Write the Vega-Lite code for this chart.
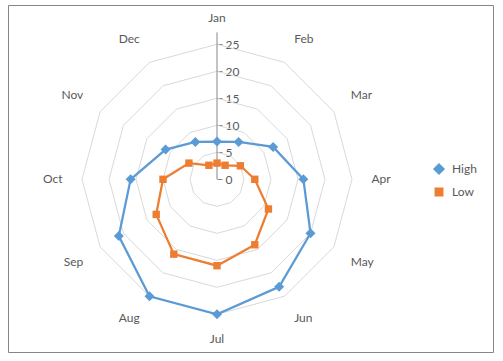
{
  "$schema": "https://vega.github.io/schema/vega-lite/v6.json",
  "width": 485,
  "height": 347,
  "autosize": {"type": "none"},
  "padding": {"left": 8, "top": 5, "right": 10, "bottom": 9},
  "background": "white",
  "config": {
    "view": {"stroke": "#868686", "strokeWidth": 1},
    "font": "Lato"
  },
  "datasets": {
    "temps": [
      {"month": "Jan", "High": 7, "Low": 3},
      {"month": "Feb", "High": 8, "Low": 3},
      {"month": "Mar", "High": 12, "Low": 5},
      {"month": "Apr", "High": 16, "Low": 7},
      {"month": "May", "High": 20, "Low": 11},
      {"month": "Jun", "High": 23, "Low": 14},
      {"month": "Jul", "High": 25, "Low": 16},
      {"month": "Aug", "High": 25, "Low": 16},
      {"month": "Sep", "High": 21, "Low": 13},
      {"month": "Oct", "High": 16, "Low": 10},
      {"month": "Nov", "High": 11, "Low": 6},
      {"month": "Dec", "High": 8, "Low": 3}
    ]
  },
  "data": {"name": "temps"},
  "transform": [
    {"window": [{"op": "row_number", "as": "idx"}]},
    {"calculate": "(datum.idx - 1) * PI / 6", "as": "ang"}
  ],
  "layer": [
    {
      "transform": [
        {"calculate": "[5, 10, 15, 20, 25]", "as": "level"},
        {"flatten": ["level"]},
        {"calculate": "datum.level * sin(datum.ang)", "as": "gx"},
        {"calculate": "datum.level * cos(datum.ang)", "as": "gy"}
      ],
      "mark": {"type": "line", "interpolate": "linear-closed", "stroke": "#D9D9D9", "strokeWidth": 1},
      "encoding": {
        "x": {"field": "gx", "type": "quantitative", "scale": {"domain": [-38.7037, 51.1111], "nice": false, "zero": false}, "axis": null},
        "y": {"field": "gy", "type": "quantitative", "scale": {"domain": [-31.981, 32.278], "nice": false, "zero": false},
          "axis": {"orient": "right", "offset": -276, "values": [0, 5, 10, 15, 20, 25], "domain": false, "grid": false,
            "ticks": true, "tickSize": 5, "tickColor": "#868686", "labelColor": "#595959", "labelFontSize": 12,
            "labelPadding": 3, "title": null, "labelFont": "Lato"}},
        "detail": {"field": "level", "type": "nominal"},
        "order": {"field": "idx", "type": "quantitative"}
      }
    },
    {
      "data": {"values": [{}]},
      "mark": {"type": "rule", "stroke": "#868686", "strokeWidth": 1},
      "encoding": {
        "x": {"datum": 0, "type": "quantitative", "axis": null},
        "y": {"datum": 0, "type": "quantitative"},
        "y2": {"datum": 27.2}
      }
    },
    {
      "transform": [
        {"fold": ["High", "Low"], "as": ["series", "value"]},
        {"calculate": "datum.value * sin(datum.ang)", "as": "sx"},
        {"calculate": "datum.value * cos(datum.ang)", "as": "sy"}
      ],
      "layer": [
        {
          "mark": {"type": "line", "interpolate": "linear-closed", "strokeWidth": 2.25},
          "encoding": {
            "x": {"field": "sx", "type": "quantitative", "axis": null},
            "y": {"field": "sy", "type": "quantitative"},
            "color": {"field": "series", "type": "nominal", "scale": {"domain": ["High", "Low"], "range": ["#5B9BD5", "#ED7D31"]}},
            "order": {"field": "idx", "type": "quantitative"}
          }
        },
        {
          "mark": {"type": "point", "filled": true, "opacity": 1, "size": 100},
          "encoding": {
            "x": {"field": "sx", "type": "quantitative", "axis": null},
            "y": {"field": "sy", "type": "quantitative"},
            "color": {"field": "series", "type": "nominal",
              "legend": {"orient": "none", "legendX": 425, "legendY": 158, "title": null, "padding": 0,
                "symbolSize": 100, "rowPadding": 8, "labelOffset": 7, "labelFontSize": 12, "labelColor": "#595959", "labelFont": "Lato"}},
            "shape": {"field": "series", "type": "nominal", "scale": {"domain": ["High", "Low"], "range": ["diamond", "M-0.74,-0.74L0.74,-0.74L0.74,0.74L-0.74,0.74Z"]}}
          }
        }
      ]
    },
    {
      "transform": [
        {"calculate": "28.6 * sin(datum.ang)", "as": "lx"},
        {"calculate": "28.6 * cos(datum.ang)", "as": "ly"}
      ],
      "mark": {"type": "text", "fontSize": 12, "fill": "#595959", "font": "Lato",
        "align": {"expr": "abs(sin(datum.ang)) < 0.1 ? 'center' : (sin(datum.ang) > 0 ? 'left' : 'right')"},
        "baseline": {"expr": "abs(cos(datum.ang)) < 0.1 ? 'middle' : (cos(datum.ang) > 0 ? 'bottom' : 'top')"}},
      "encoding": {
        "x": {"field": "lx", "type": "quantitative", "axis": null},
        "y": {"field": "ly", "type": "quantitative"},
        "text": {"field": "month", "type": "nominal"}
      }
    }
  ]
}
